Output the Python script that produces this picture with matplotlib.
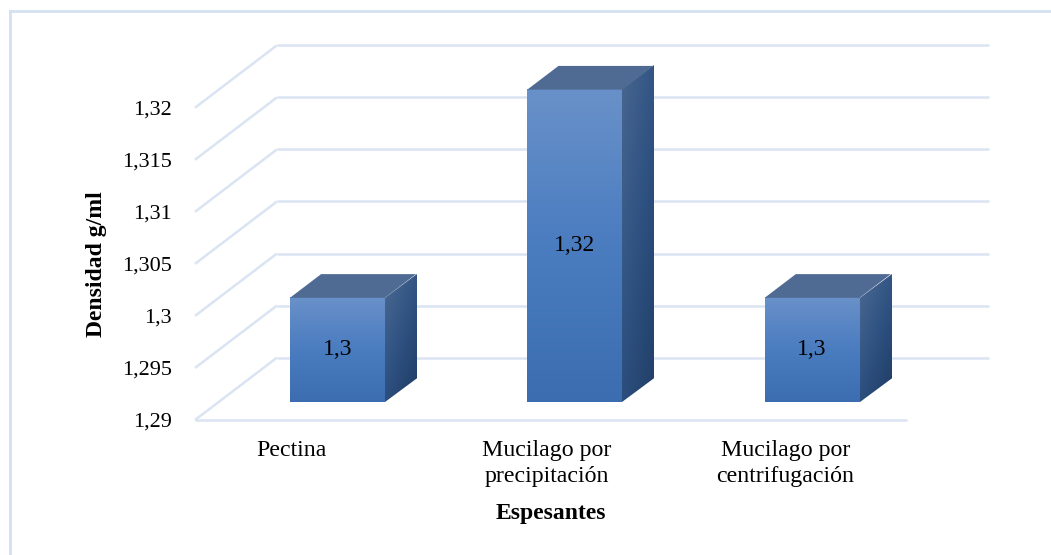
import numpy as np
import matplotlib
matplotlib.use("Agg")
import matplotlib.pyplot as plt
from matplotlib import transforms
from matplotlib.colors import LinearSegmentedColormap
from matplotlib.lines import Line2D
from matplotlib.patches import Polygon

categorias = ["Pectina", "Mucilago por\nprecipitación", "Mucilago por\ncentrifugación"]
densidad = [1.30, 1.32, 1.30]
y_ticks = [1.29, 1.295, 1.30, 1.305, 1.31, 1.315, 1.32]
y_base = 1.29


def coma(v):
    return f"{round(v, 3):g}".replace(".", ",")


plt.rcParams["font.family"] = ["Liberation Serif", "DejaVu Serif"]
plt.rcParams["font.size"] = 16.5

fig = plt.figure(figsize=(10.51, 5.55), dpi=100)
ax = fig.add_axes([0.1855, 0.2432, 0.6775, 0.5627])
ax.set_xlim(-0.5, 2.5)
ax.set_ylim(y_base, 1.32)

# depth of the 3D box: 0 = front edge of the floor, 1 = back wall
DX, DY = 0.82, 0.624  # inches for full depth


def depth(d, dx=0.0, dy=0.0):
    return ax.transData + transforms.ScaledTranslation(DX * d + dx, DY * d + dy,
                                                       fig.dpi_scale_trans)


def proj(x, y, d):
    return depth(d).transform((x, y))


grid_kw = dict(color="#dbe4f2", lw=1.8, solid_capstyle="butt", clip_on=False, zorder=1)
ident = transforms.IdentityTransform()

# back wall lines and the diagonals on the left side wall
for v in y_ticks:
    ax.plot([-0.5, 2.5], [v, v], transform=depth(1), **grid_kw)
    p0, p1 = proj(-0.5, v, 0), proj(-0.5, v, 1)
    ax.add_line(Line2D([p0[0], p1[0]], [p0[1], p1[1]], transform=ident, **grid_kw))
# front edge of the floor
ax.plot([-0.5, 2.5], [y_base, y_base], transform=depth(0), **grid_kw)

front_cmap = LinearSegmentedColormap.from_list("front", ["#3b6db0", "#4a7cc0", "#6991c9"])
side_cmap = LinearSegmentedColormap.from_list("side", ["#22406a", "#2f5282", "#46658f"])


def face_image(arr, cmap, o, u, t, z):
    # map the unit square onto the parallelogram o + a*u + b*t
    aff = transforms.Affine2D.from_values(u[0], u[1], t[0], t[1], o[0], o[1])
    im = ax.imshow(arr, cmap=cmap, extent=(0, 1, 0, 1), origin="lower",
                   aspect="auto", interpolation="bilinear", zorder=z, clip_on=False)
    im.set_transform(aff)
    return im


w = 0.4
d0, d1 = 0.29, 0.67
n = 200
vert = np.linspace(0, 1, n).reshape(-1, 1) * np.ones((1, 2))
uu, tt = np.meshgrid(np.linspace(0, 1, n), np.linspace(0, 1, n))
diag = 0.6 * tt + 0.4 * (1 - uu)

for i, v in enumerate(densidad):
    x0, x1 = i - w / 2, i + w / 2
    # front face
    o = proj(x0, y_base, d0)
    face_image(vert, front_cmap, o, proj(x1, y_base, d0) - o, proj(x0, v, d0) - o, 3)
    # right side face
    o = proj(x1, y_base, d0)
    face_image(diag, side_cmap, o, proj(x1, y_base, d1) - o, proj(x1, v, d0) - o, 3)
    # top face
    top = [proj(x0, v, d0), proj(x1, v, d0), proj(x1, v, d1), proj(x0, v, d1)]
    ax.add_patch(Polygon(top, closed=True, transform=ident, facecolor="#4f6b93",
                         edgecolor="none", clip_on=False, zorder=3))
    ax.text(i, (y_base + v) / 2, coma(v), transform=depth(d0), ha="center",
            va="center", fontsize=17, color="black", zorder=5)

ax.set_xlim(-0.5, 2.5)
ax.set_ylim(y_base, 1.32)

ax.set_yticks(y_ticks, [coma(v) for v in y_ticks])
ax.set_xticks([])
ax.tick_params(axis="y", length=0, pad=16.5, labelsize=16)

# category labels under the floor edge
label_shift = [-0.22, -0.04, -0.03]
for i, (cat, sx) in enumerate(zip(categorias, label_shift)):
    ax.text(i, y_base, cat, transform=depth(0, sx, -0.195), ha="center", va="top",
            fontsize=17.2, linespacing=1.32, multialignment="center")

for s in ax.spines.values():
    s.set_visible(False)
ax.patch.set_visible(False)

ax.set_ylabel("Densidad g/ml", fontweight="bold", fontsize=17, va="center")
ax.yaxis.set_label_coords(-0.1376, 0.5)
ax.set_xlabel("Espesantes", fontweight="bold", fontsize=17, va="center")
ax.xaxis.set_label_coords(0.5, -0.30)

# chart area border (left and top edges)
border = dict(color="#d5e1f2", lw=2, transform=fig.transFigure)
fig.add_artist(Line2D([0.0095, 0.0095], [0, 0.981], **border))
fig.add_artist(Line2D([0.0095, 1], [0.981, 0.981], **border))

fig.savefig("out.png", dpi=100)
